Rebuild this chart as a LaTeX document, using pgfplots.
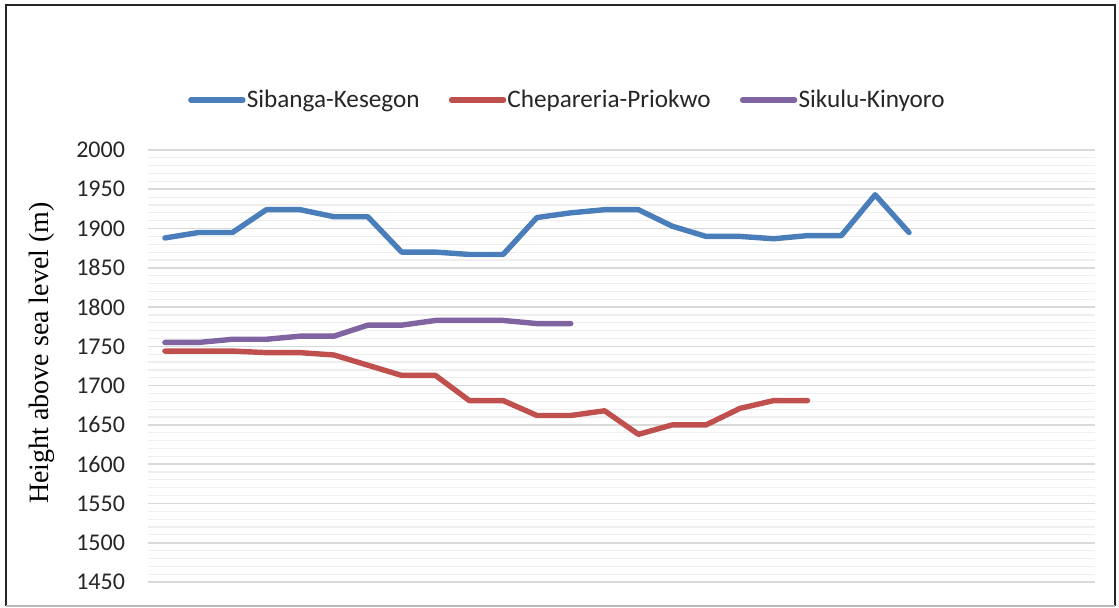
\documentclass[border=0pt]{standalone}
\usepackage{fontspec}
\setmainfont{Carlito}
\newfontfamily\timesfont{Liberation Serif}
\usepackage{pgfplots}
\pgfplotsset{compat=1.18}
\definecolor{sKblue}{RGB}{74,126,187}
\definecolor{cPred}{RGB}{192,80,77}
\definecolor{sKpurple}{RGB}{128,100,162}
\definecolor{majgrid}{RGB}{217,217,217}
\definecolor{mingrid}{RGB}{238,238,238}

\begin{document}
\begin{tikzpicture}[x=1pt,y=1pt]
\useasboundingbox (0,0) rectangle (559.5,304);
% chart frame
\draw[line width=1.1pt, black!85] (3,1) -- (3,301.5) -- (557.5,301.5) -- (557.5,1);
\draw[line width=0.8pt, gray!55] (3,1) -- (557.5,1);
\begin{axis}[
    at={(74pt,13pt)}, anchor=south west,
    scale only axis,
    width=473.5pt, height=216pt,
    xmin=0.5, xmax=28.5,
    ymin=1450, ymax=2000,
    xtick=\empty,
    ytick={1450,1500,...,2000},
    minor y tick num=4,
    ymajorgrids, yminorgrids,
    major grid style={line width=0.8pt, draw=majgrid},
    minor grid style={line width=0.6pt, draw=mingrid},
    axis line style={draw=none},
    major tick length=0pt, minor tick length=0pt,
    tick label style={font=\fontsize{12}{14}\selectfont, text=black!85},
    yticklabel style={xshift=-8pt},
    /pgf/number format/assume math mode=true,
    /pgf/number format/set thousands separator={},
    ylabel={\timesfont Height above sea level (m)},
    ylabel style={at={(axis description cs:-0.112,0.53)}, anchor=center, font=\fontsize{14}{16}\selectfont},
    legend columns=3,
    legend style={at={(axis description cs:0.4425,1.116)}, anchor=center,
        draw=none, fill=none, inner sep=0pt,
        font=\fontsize{12.6}{14}\selectfont, text=black!85,
        nodes={inner sep=0.6pt},
        /tikz/every even column/.append style={column sep=14pt}},
    legend image code/.code={\draw[#1] (0pt,0pt) -- (26pt,0pt);},
    every axis plot/.append style={line width=2.7pt, line join=round, line cap=round},
]
\addplot[sKblue] coordinates {
 (1,1888) (2,1895) (3,1895) (4,1924) (5,1924) (6,1915) (7,1915) (8,1870)
 (9,1870) (10,1867) (11,1867) (12,1914) (13,1920) (14,1924) (15,1924)
 (16,1903) (17,1890) (18,1890) (19,1887) (20,1891) (21,1891) (22,1943) (23,1895)};
\addplot[cPred] coordinates {
 (1,1744) (2,1744) (3,1744) (4,1742) (5,1742) (6,1739) (7,1726) (8,1713)
 (9,1713) (10,1681) (11,1681) (12,1662) (13,1662) (14,1668) (15,1638)
 (16,1650) (17,1650) (18,1671) (19,1681) (20,1681)};
\addplot[sKpurple] coordinates {
 (1,1755) (2,1755) (3,1759) (4,1759) (5,1763) (6,1763) (7,1777) (8,1777)
 (9,1783) (10,1783) (11,1783) (12,1779) (13,1779)};
\legend{Sibanga-Kesegon, Chepareria-Priokwo, Sikulu-Kinyoro}
\end{axis}
\end{tikzpicture}
\end{document}
